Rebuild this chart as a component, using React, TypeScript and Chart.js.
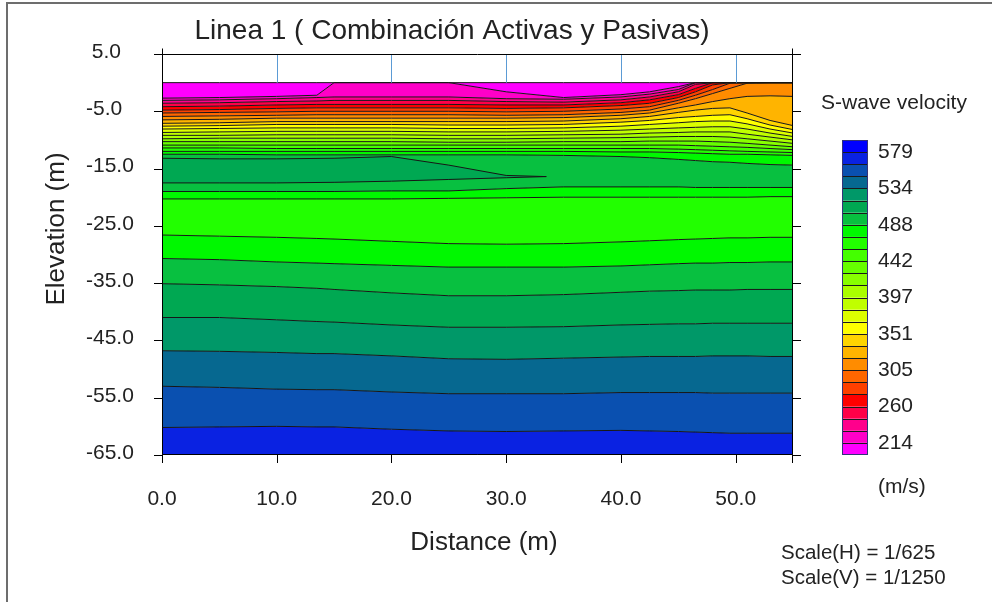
import React, { useEffect, useRef } from 'react';
import { Chart, registerables } from 'chart.js';

Chart.register(...registerables);

// ---------- data ----------
const DISTANCE = [0, 5, 10, 13.5, 15, 20, 25, 30, 35, 40, 42.5, 45, 46.5, 48, 49.5, 51, 53, 55];

const SURFACE = [0, 0, 0, 0, 0, 0, 0, 0, 0, 0, 0, 0, 0, 0, 0, 0, 0, 0];
const C214 = [-2.7, -2.6, -2.4, -2.2, 0, 0, 0, -1.6, -2.6, -2.1, -1.6, -0.7, 0, 0, 0, 0, 0, 0];
const C229 = [-3.1, -3.0, -2.8, -2.6, -2.5, -2.5, -2.5, -2.8, -2.9, -2.5, -2.0, -1.2, 0, 0, 0, 0, 0, 0];
const C244 = [-3.6, -3.5, -3.3, -3.2, -3.1, -3.1, -3.1, -3.3, -3.4, -3.0, -2.5, -1.6, -0.3, 0, 0, 0, 0, 0];
const C260 = [-4.2, -4.1, -3.9, -3.8, -3.8, -3.8, -3.8, -3.9, -3.9, -3.5, -3.0, -2.1, -1.0, 0, 0, 0, 0, 0];
const C275 = [-4.8, -4.7, -4.5, -4.4, -4.4, -4.4, -4.4, -4.5, -4.4, -4.0, -3.6, -2.6, -1.6, -0.4, 0, 0, 0, 0];
const C290 = [-5.3, -5.2, -5.1, -5.0, -5.0, -5.0, -5.0, -5.1, -5.0, -4.6, -4.2, -3.1, -2.2, -1.2, -0.1, 0, 0, 0];
const C305 = [-5.9, -5.8, -5.7, -5.6, -5.6, -5.6, -5.6, -5.7, -5.6, -5.2, -4.8, -3.6, -2.8, -1.9, -1.0, -0.1, 0, 0];
const C320 = [-6.5, -6.4, -6.2, -6.2, -6.2, -6.2, -6.2, -6.2, -6.1, -5.7, -5.3, -4.4, -3.9, -3.3, -2.8, -2.4, -2.3, -2.4];
const C336 = [-7.1, -7.0, -6.8, -6.8, -6.8, -6.8, -6.8, -6.8, -6.7, -6.3, -5.9, -5.2, -4.8, -4.5, -4.4, -5.3, -6.6, -7.5];
const C351 = [-7.6, -7.5, -7.3, -7.3, -7.3, -7.3, -7.4, -7.4, -7.3, -6.9, -6.6, -6.1, -5.9, -5.7, -5.6, -6.3, -7.4, -8.2];
const C366 = [-8.1, -8.0, -7.9, -7.9, -7.9, -7.9, -8.0, -8.0, -7.9, -7.6, -7.3, -7.0, -6.8, -6.7, -6.7, -7.2, -8.1, -8.8];
const C381 = [-8.7, -8.6, -8.5, -8.5, -8.5, -8.5, -8.6, -8.6, -8.5, -8.3, -8.1, -7.9, -7.8, -7.7, -7.7, -8.1, -8.8, -9.4];
const C397 = [-9.2, -9.2, -9.1, -9.1, -9.1, -9.1, -9.2, -9.2, -9.1, -9.0, -8.8, -8.7, -8.6, -8.6, -8.6, -9.0, -9.5, -10.0];
const C412 = [-9.8, -9.7, -9.7, -9.7, -9.7, -9.7, -9.8, -9.8, -9.7, -9.6, -9.5, -9.4, -9.4, -9.4, -9.5, -9.8, -10.2, -10.6];
const C427 = [-10.3, -10.3, -10.3, -10.3, -10.3, -10.3, -10.4, -10.4, -10.3, -10.3, -10.2, -10.2, -10.2, -10.3, -10.4, -10.6, -10.9, -11.2];
const C442 = [-10.9, -10.9, -10.9, -10.9, -10.9, -10.9, -10.9, -10.9, -10.9, -10.9, -10.9, -10.9, -11.0, -11.1, -11.2, -11.3, -11.5, -11.7];
const C458 = [-11.4, -11.4, -11.5, -11.5, -11.5, -11.5, -11.5, -11.5, -11.5, -11.5, -11.5, -11.6, -11.7, -11.8, -11.9, -12.0, -12.1, -12.2];
const C473 = [-12.0, -12.0, -12.0, -12.0, -12.0, -12.0, -12.0, -12.0, -12.0, -12.1, -12.1, -12.2, -12.3, -12.4, -12.5, -12.5, -12.6, -12.7];
const C488_UP = [-12.5, -12.5, -12.6, -12.6, -12.6, -12.6, -12.6, -12.6, -12.7, -12.9, -13.1, -13.4, -13.6, -13.8, -13.9, -14.1, -14.3, -14.4];
const C488_LOW = [-19.0, -19.0, -19.0, -19.0, -19.0, -18.9, -18.9, -18.5, -18.2, -18.2, -18.2, -18.2, -18.3, -18.3, -18.3, -18.3, -18.3, -18.3];
const C473_LOW = [-20.3, -20.3, -20.3, -20.3, -20.3, -20.3, -20.2, -20.1, -20.0, -20.0, -20.0, -20.0, -20.0, -20.0, -20.0, -20.0, -19.9, -19.9];
const C473_B = [-26.6, -26.8, -27.0, -27.2, -27.3, -27.7, -28.1, -28.2, -28.1, -27.8, -27.6, -27.4, -27.3, -27.2, -27.1, -27.1, -27.0, -27.0];
const C488_B = [-30.7, -30.9, -31.3, -31.5, -31.6, -31.9, -32.2, -32.2, -32.2, -32.0, -31.8, -31.6, -31.5, -31.5, -31.4, -31.4, -31.3, -31.3];
const C503 = [-35.1, -35.3, -35.6, -35.9, -36.1, -36.7, -37.2, -37.2, -37.0, -36.6, -36.4, -36.3, -36.2, -36.2, -36.2, -36.1, -36.1, -36.1];
const C518 = [-41.0, -41.0, -41.4, -41.7, -41.8, -42.3, -42.7, -42.7, -42.6, -42.3, -42.2, -42.1, -42.1, -42.0, -42.0, -42.0, -42.0, -42.0];
const C534 = [-46.8, -46.9, -47.1, -47.3, -47.3, -47.7, -48.2, -48.3, -48.1, -47.9, -47.8, -47.8, -47.8, -47.7, -47.7, -47.7, -47.8, -47.8];
const C549 = [-53.0, -53.2, -53.5, -53.6, -53.6, -54.0, -54.3, -54.3, -54.3, -54.1, -54.1, -54.1, -54.1, -54.2, -54.2, -54.2, -54.2, -54.2];
const C564 = [-60.2, -60.1, -60.0, -60.1, -60.1, -60.5, -60.8, -60.9, -60.8, -60.7, -60.8, -60.9, -61.0, -61.1, -61.2, -61.2, -61.2, -61.2];
const BASE = [-65, -65, -65, -65, -65, -65, -65, -65, -65, -65, -65, -65, -65, -65, -65, -65, -65, -65];

// lens of higher velocity (488-503) inside the 473-488 layer
const LENS_DISTANCE = [0, 5, 10, 15, 20, 25, 30, 33.5];
const LENS_TOP = [-13.2, -13.3, -13.3, -13.2, -12.9, -14.4, -16.2, -16.4];
const LENS_BOTTOM = [-17.5, -17.5, -17.5, -17.4, -17.2, -16.9, -16.6, -16.4];

// colour classes of the scale, index 0 = fastest (top of the colour bar)
const VELOCITY_COLORS = [
  '#0000ff', '#0a22e2', '#0a50b0', '#066890', '#009868', '#00a852', '#08c040',
  '#00f800', '#22ff00', '#44ff00', '#66ff00', '#88ff00', '#aaff00', '#c0ff00',
  '#ddff00', '#ffff00', '#ffd400', '#ffb400', '#ff8c00', '#ff6600', '#ff4000',
  '#ff0000', '#ff0048', '#ff008c', '#ff00c8', '#ff00ff',
];
const LEGEND_LABELS = ['579', '534', '488', '442', '397', '351', '305', '260', '214'];
const X_TICKS = [0, 10, 20, 30, 40, 50];
const X_TICK_MARKS = [0, 10, 20, 30, 40, 50, 55];
const Y_TICKS = [5, -5, -15, -25, -35, -45, -55, -65];
const RECEIVERS = [10, 20, 30, 40, 50];

// stack of boundaries from top to bottom, each with the colour class of the band above it
const STACK: { line: number[]; band: number }[] = [
  { line: SURFACE, band: -1 },
  { line: C214, band: 25 },
  { line: C229, band: 24 },
  { line: C244, band: 23 },
  { line: C260, band: 22 },
  { line: C275, band: 21 },
  { line: C290, band: 20 },
  { line: C305, band: 19 },
  { line: C320, band: 18 },
  { line: C336, band: 17 },
  { line: C351, band: 16 },
  { line: C366, band: 15 },
  { line: C381, band: 14 },
  { line: C397, band: 13 },
  { line: C412, band: 12 },
  { line: C427, band: 11 },
  { line: C442, band: 10 },
  { line: C458, band: 9 },
  { line: C473, band: 8 },
  { line: C488_UP, band: 7 },
  { line: C488_LOW, band: 6 },
  { line: C473_LOW, band: 7 },
  { line: C473_B, band: 8 },
  { line: C488_B, band: 7 },
  { line: C503, band: 6 },
  { line: C518, band: 5 },
  { line: C534, band: 4 },
  { line: C549, band: 3 },
  { line: C564, band: 2 },
  { line: BASE, band: 1 },
];
const LENS_BAND = 5;

const FONT = '"Liberation Sans", Arial, Helvetica, sans-serif';
const LINE_COLOR = '#161616';

function toPoints(xs: number[], ys: number[]) {
  return xs.map((x, i) => ({ x, y: ys[i] }));
}

const decorPlugin = {
  id: 'decor',
  beforeDraw(chart: any) {
    const { ctx, chartArea: a, scales } = chart;
    const x = scales.x;
    const y = scales.y;
    ctx.save();
    ctx.strokeStyle = '#000';
    ctx.lineWidth = 1;
    ctx.beginPath();
    for (const v of Y_TICKS) {
      const py = Math.round(y.getPixelForValue(v)) + 0.5;
      const inner = v > 0 ? 8 : 0;
      ctx.moveTo(a.left - 8, py);
      ctx.lineTo(a.left + inner, py);
      ctx.moveTo(a.right - inner, py);
      ctx.lineTo(a.right + 8, py);
    }
    for (const v of X_TICK_MARKS) {
      const px = Math.round(x.getPixelForValue(v)) + (v === 55 ? -0.5 : 0.5);
      ctx.moveTo(px, a.bottom);
      ctx.lineTo(px, a.bottom + 8);
    }
    ctx.stroke();
    ctx.restore();
  },
  afterDatasetsDraw(chart: any) {
    const { ctx, chartArea: a, scales } = chart;
    const x = scales.x;
    const y = scales.y;
    ctx.save();
    ctx.strokeStyle = '#5b9bd5';
    ctx.lineWidth = 1;
    ctx.beginPath();
    for (const v of RECEIVERS) {
      const px = Math.round(x.getPixelForValue(v)) + 0.5;
      ctx.moveTo(px, y.getPixelForValue(5));
      ctx.lineTo(px, y.getPixelForValue(0));
    }
    ctx.stroke();
    ctx.strokeStyle = '#000';
    ctx.beginPath();
    const l = Math.round(a.left) + 0.5;
    const r = Math.round(a.right) - 0.5;
    const t = Math.round(a.top) + 0.5;
    const b = Math.round(a.bottom) - 0.5;
    ctx.moveTo(l, t - 6);
    ctx.lineTo(l, b);
    ctx.lineTo(r, b);
    ctx.lineTo(r, t - 6);
    ctx.moveTo(l, t);
    ctx.lineTo(r, t);
    ctx.stroke();
    ctx.restore();
  },
  afterDraw(chart: any) {
    const { ctx } = chart;
    ctx.save();
    ctx.fillStyle = '#222';
    ctx.textBaseline = 'middle';

    ctx.font = `28px ${FONT}`;
    ctx.textAlign = 'center';
    ctx.fillText('Linea 1 ( Combinación Activas y Pasivas)', 452, 31);

    ctx.font = `26px ${FONT}`;
    ctx.fillText('Distance (m)', 484, 543);
    ctx.save();
    ctx.translate(57, 229);
    ctx.rotate(-Math.PI / 2);
    ctx.fillText('Elevation (m)', 0, 0);
    ctx.restore();

    ctx.textAlign = 'left';
    ctx.font = `21px ${FONT}`;
    ctx.fillText('S-wave velocity', 821, 103);
    ctx.fillText('(m/s)', 878, 487);
    ctx.font = `20.5px ${FONT}`;
    ctx.fillText('Scale(H) = 1/625', 781, 553);
    ctx.fillText('Scale(V) = 1/1250', 781, 578);

    // colour bar
    const bx = 842;
    const bw = 26;
    const top = 140;
    const h = 315 / VELOCITY_COLORS.length;
    VELOCITY_COLORS.forEach((c, i) => {
      ctx.fillStyle = c;
      ctx.fillRect(bx, top + i * h, bw, h);
    });
    ctx.strokeStyle = '#1a1a1a';
    ctx.lineWidth = 1;
    ctx.beginPath();
    for (let i = 1; i < VELOCITY_COLORS.length; i++) {
      const yy = Math.round(top + i * h) + 0.5;
      ctx.moveTo(bx, yy);
      ctx.lineTo(bx + bw, yy);
    }
    ctx.stroke();
    ctx.strokeStyle = '#33337a';
    ctx.strokeRect(bx + 0.5, top + 0.5, bw - 1, 315 - 1);

    ctx.fillStyle = '#222';
    ctx.font = `21px ${FONT}`;
    LEGEND_LABELS.forEach((lab, k) => {
      ctx.fillText(lab, 878, top + (1 + 3 * k) * h);
    });
    ctx.restore();
  },
};

export default function App() {
  const ref = useRef<HTMLCanvasElement | null>(null);

  useEffect(() => {
    if (!ref.current) return;
    const datasets: any[] = [];
    datasets.push({
      data: toPoints(LENS_DISTANCE, LENS_BOTTOM),
      borderColor: LINE_COLOR,
      borderWidth: 1,
      pointRadius: 0,
      fill: false,
      tension: 0,
    });
    datasets.push({
      data: toPoints(LENS_DISTANCE, LENS_TOP),
      borderColor: LINE_COLOR,
      borderWidth: 1,
      pointRadius: 0,
      fill: '-1',
      backgroundColor: VELOCITY_COLORS[LENS_BAND],
      tension: 0,
    });
    STACK.forEach((s, i) => {
      datasets.push({
        data: toPoints(DISTANCE, s.line),
        borderColor: LINE_COLOR,
        borderWidth: 1,
        pointRadius: 0,
        fill: i === 0 ? false : '-1',
        backgroundColor: s.band >= 0 ? VELOCITY_COLORS[s.band] : 'transparent',
        tension: 0,
      });
    });

    const tickFont = { family: FONT, size: 21 };
    const chart = new Chart(ref.current, {
      type: 'line',
      data: { datasets },
      options: {
        animation: false,
        responsive: false,
        maintainAspectRatio: false,
        layout: { padding: { left: 86, top: 54, right: 199, bottom: 0 } },
        plugins: {
          legend: { display: false },
          tooltip: { enabled: false },
          title: { display: false },
          filler: { drawTime: 'beforeDatasetsDraw' },
        } as any,
        scales: {
          x: {
            type: 'linear',
            min: 0,
            max: 55,
            grid: { display: false },
            border: { display: false },
            afterBuildTicks: (s: any) => {
              s.ticks = X_TICKS.map((v) => ({ value: v }));
            },
            afterFit: (s: any) => {
              s.height = 147;
            },
            ticks: {
              padding: 24,
              color: '#222',
              font: tickFont,
              autoSkip: false,
              maxRotation: 0,
              callback: (v: any) => Number(v).toFixed(1),
            },
          },
          y: {
            type: 'linear',
            min: -65,
            max: 5,
            grid: { display: false },
            border: { display: false },
            afterBuildTicks: (s: any) => {
              s.ticks = Y_TICKS.map((v) => ({ value: v }));
            },
            afterFit: (s: any) => {
              s.width = 76;
            },
            ticks: {
              crossAlign: 'far',
              labelOffset: -2,
              padding: 0,
              color: '#222',
              font: tickFont,
              autoSkip: false,
              callback: (v: any) => (Number(v) >= 0 ? ' ' : '') + Number(v).toFixed(1),
            },
          },
        },
      } as any,
      plugins: [decorPlugin],
    });
    return () => chart.destroy();
  }, []);

  return (
    <div style={{ position: 'absolute', left: 0, top: 0, width: 992, height: 602, background: '#fff' }}>
      <div
        style={{
          position: 'absolute',
          left: 6,
          top: 2,
          width: 986,
          height: 600,
          borderTop: '2px solid #6d6d6d',
          borderLeft: '2px solid #6d6d6d',
          boxSizing: 'border-box',
        }}
      />
      <canvas ref={ref} width={992} height={602} style={{ position: 'absolute', left: 0, top: 0 }} />
    </div>
  );
}
